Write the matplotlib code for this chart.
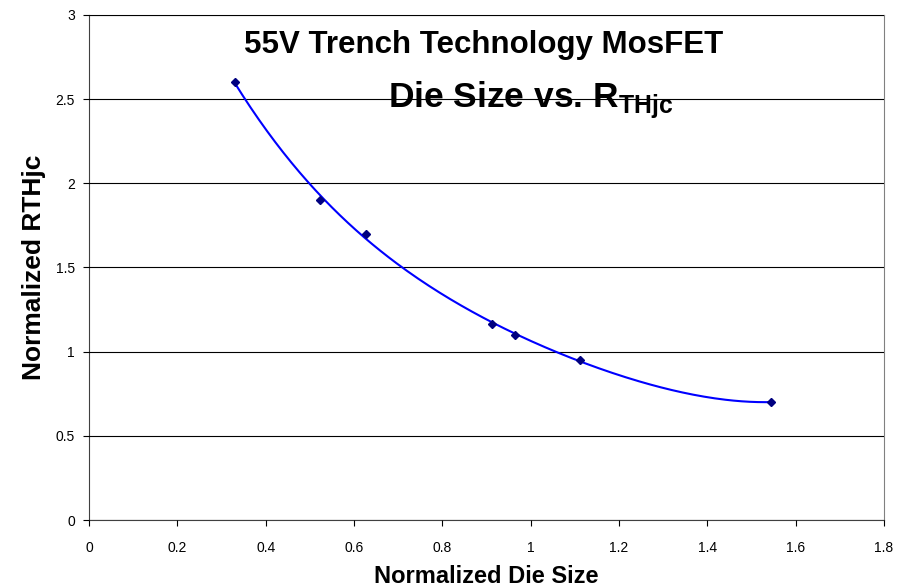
import numpy as np
import matplotlib
matplotlib.use("Agg")
import matplotlib.pyplot as plt

plt.rcParams["font.family"] = ["Liberation Sans", "DejaVu Sans"]
plt.rcParams["mathtext.fontset"] = "custom"
plt.rcParams["mathtext.rm"] = "Liberation Sans"
plt.rcParams["mathtext.bf"] = "Liberation Sans:bold"

# normalized die size vs normalized junction-to-case thermal resistance
die_size = [0.33, 0.524, 0.628, 0.912, 0.965, 1.112, 1.545]
rthjc = [2.6, 1.9, 1.7, 1.165, 1.1, 0.95, 0.7]

x_ticks = [0, 0.2, 0.4, 0.6, 0.8, 1, 1.2, 1.4, 1.6, 1.8]
x_tick_labels = ["0", "0.2", "0.4", "0.6", "0.8", "1", "1.2", "1.4", "1.6", "1.8"]
y_ticks = [0, 0.5, 1, 1.5, 2, 2.5, 3]
y_tick_labels = ["0", "0.5", "1", "1.5", "2", "2.5", "3"]

fig = plt.figure(figsize=(9.11, 5.88), dpi=100)
ax = fig.add_axes([0.0977, 0.1156, 0.8727, 0.859])

# 4th order polynomial trend line over the data range
coef = np.polyfit(die_size, rthjc, 4)
xs = np.linspace(min(die_size), max(die_size), 200)
ax.plot(xs, np.polyval(coef, xs), color="#0000FF", lw=1.5, zorder=3)
ax.plot(die_size, rthjc, ls="none", marker="D", ms=4, color="#000080", zorder=4)

ax.set_xlim(0, 1.8)
ax.set_ylim(0, 3)
ax.set_xticks(x_ticks)
ax.set_xticklabels(x_tick_labels)
ax.set_yticks(y_ticks)
ax.set_yticklabels(y_tick_labels)
ax.tick_params(labelsize=10, length=4, direction="out", width=0.8)
ax.tick_params(axis="x", pad=11)
ax.tick_params(axis="y", pad=6)

ax.set_axisbelow(False)
ax.yaxis.grid(True, color="black", lw=0.8)
for side in ["top", "right"]:
    ax.spines[side].set_color("#808080")
for side in ["left", "bottom"]:
    ax.spines[side].set_color("#404040")

ax.set_xlabel("Normalized Die Size", fontsize=17, fontweight="bold", labelpad=7)
ax.set_ylabel("Normalized RTHjc", fontsize=19, fontweight="bold", labelpad=7)

ax.text(0.496, 0.925, "55V Trench Technology MosFET", transform=ax.transAxes,
        ha="center", va="baseline", fontsize=22.5, fontweight="bold", zorder=1)
ax.text(0.556, 0.816, r"Die Size vs. R$_{\mathbf{THjc}}$", transform=ax.transAxes,
        ha="center", va="baseline", fontsize=25.5, fontweight="bold", zorder=1)

fig.savefig("out.png", dpi=100)
